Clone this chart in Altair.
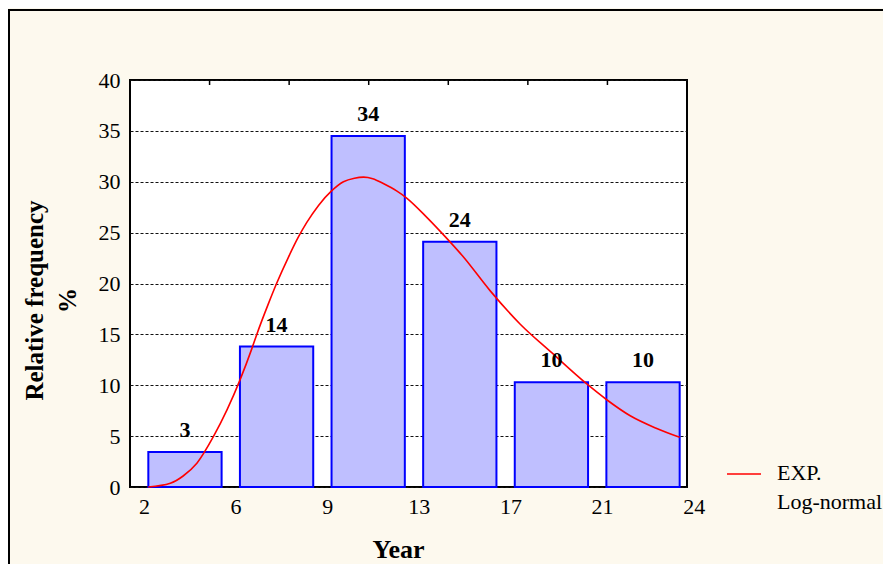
import json
import altair as alt
import pandas as pd

# ---------------- data ----------------
bin_edges = ["2", "6", "9", "13", "17", "21", "24"]
bin_index = [0, 1, 2, 3, 4, 5]
freq = [3.45, 13.8, 34.5, 24.1, 10.3, 10.3]
freq_labels = ["3", "14", "34", "24", "10", "10"]

# fitted log-normal curve, in bin-position units along the x axis
curve_u = [0.20, 0.44, 0.58, 0.73, 0.91, 1.06, 1.20, 1.33, 1.38, 1.51, 1.60,
           1.73, 1.84, 1.93, 2.06, 2.20, 2.33, 2.45, 2.55, 2.65, 2.77, 2.91, 3.02, 3.24,
           3.42, 3.64, 3.93, 4.26, 4.59, 4.99, 5.20, 5.46, 5.75, 6.00]
curve_f = [0.0, 0.36, 1.08, 2.33, 4.94, 7.6, 10.5, 13.6, 14.9, 18.0, 20.0,
           22.6, 24.6, 26.0, 27.7, 29.1, 30.0, 30.35, 30.45, 30.3, 29.8, 29.1, 28.4, 26.5,
           24.8, 22.6, 19.3, 16.0, 13.3, 10.1, 8.6, 7.0, 5.75, 4.88]

top_tick_k = [1, 2, 3, 4, 5, 6]
legend_text = ["EXP.", "Log-normal"]
y_title = ["Relative frequency", "%"]
x_title = "Year"

# ---------------- tables ----------------
bars = pd.DataFrame({"bin": bin_index, "freq": freq, "label": freq_labels})
curve = pd.DataFrame({"u": curve_u, "f": curve_f})
top_ticks = pd.DataFrame({"k": top_tick_k})
one = pd.DataFrame({"a": [0]})

SERIF = "Liberation Serif"
X_MAX = 6.08
xscale = alt.Scale(domain=[0, X_MAX], nice=False, zero=False)
yscale = alt.Scale(domain=[0, 40], nice=False, zero=True)

label_expr = json.dumps(bin_edges) + "[datum.value]"

x_axis = alt.Axis(
    values=list(range(len(bin_edges))), labelExpr=label_expr, labelOffset=14,
    ticks=False, domain=False, grid=False, labelPadding=9,
    labelFont=SERIF, labelFontSize=22, labelColor="black",
    labelFlush=False, labelOverlap=False, labelBound=False,
    title=x_title, titleFont=SERIF, titleFontSize=26, titleFontWeight="bold",
    titleColor="black", titleX=268, titleY=70, titleBaseline="alphabetic",
    titleAlign="center", titleAnchor="start",
)
y_axis = alt.Axis(
    values=list(range(0, 41, 5)), ticks=False, domain=False,
    grid=True, gridColor="#111111", gridDash=[3, 2], gridWidth=1,
    labelFont=SERIF, labelFontSize=22, labelColor="black", labelPadding=10,
    title=y_title, titleFont=SERIF, titleFontSize=25, titleFontWeight="bold",
    titleColor="black", titleX=-96, titleY=220, titleAngle=270,
    titleBaseline="middle", titleAlign="center", titleLineHeight=33,
    titleAnchor="start",
)

base_bars = alt.Chart(bars).transform_calculate(
    lo="datum.bin + 0.2", hi="datum.bin + 1", mid="datum.bin + 0.6"
)

bar_layer = base_bars.mark_rect(fill="#BFBFFF", stroke="#0000FF", strokeWidth=2).encode(
    x=alt.X("lo:Q", scale=xscale, axis=x_axis),
    x2="hi:Q",
    y=alt.Y("freq:Q", scale=yscale, axis=y_axis),
    y2=alt.datum(0),
)

label_layer = base_bars.mark_text(
    font=SERIF, fontSize=22, fontWeight="bold", color="black",
    baseline="alphabetic", dy=-15,
).encode(
    x=alt.X("mid:Q", scale=xscale, axis=x_axis),
    y=alt.Y("freq:Q", scale=yscale, axis=y_axis),
    text="label:N",
)

curve_layer = alt.Chart(curve).mark_line(
    color="#FF0000", strokeWidth=1.6, interpolate="monotone"
).encode(
    x=alt.X("u:Q", scale=xscale, axis=x_axis),
    y=alt.Y("f:Q", scale=yscale, axis=y_axis),
)

top_tick_layer = alt.Chart(top_ticks).transform_calculate(
    u=f"datum.k * {X_MAX} / 7"
).mark_rule(color="black", strokeWidth=1.5).encode(
    x=alt.X("u:Q", scale=xscale, axis=x_axis),
    y=alt.value(0),
    y2=alt.value(5),
)

legend_line = alt.Chart(one).mark_rule(color="#FF0000", strokeWidth=1.6).encode(
    x=alt.value(597), x2=alt.value(631), y=alt.value(394),
)
legend_label = alt.Chart(one).mark_text(
    font=SERIF, fontSize=22, color="black", align="left", baseline="top",
    lineHeight=29,
).encode(
    x=alt.value(647), y=alt.value(383), text=alt.value(legend_text),
)

frame = alt.Chart(one).mark_rect(fillOpacity=0, stroke="black", strokeWidth=2).encode(
    x=alt.value(-121), x2=alt.value(900), y=alt.value(-70), y2=alt.value(700),
)

chart = alt.layer(
    bar_layer, curve_layer, label_layer, top_tick_layer, legend_line, legend_label, frame
).properties(
    width=557, height=407,
    autosize=alt.AutoSizeParams(type="none"),
    padding={"left": 122, "top": 72, "right": 196, "bottom": 77},
    background="#FDF9EE",
).configure_view(
    fill="white", stroke="black", strokeWidth=2,
)

chart.save("out.html", embed_options={"renderer": "svg", "actions": False})
